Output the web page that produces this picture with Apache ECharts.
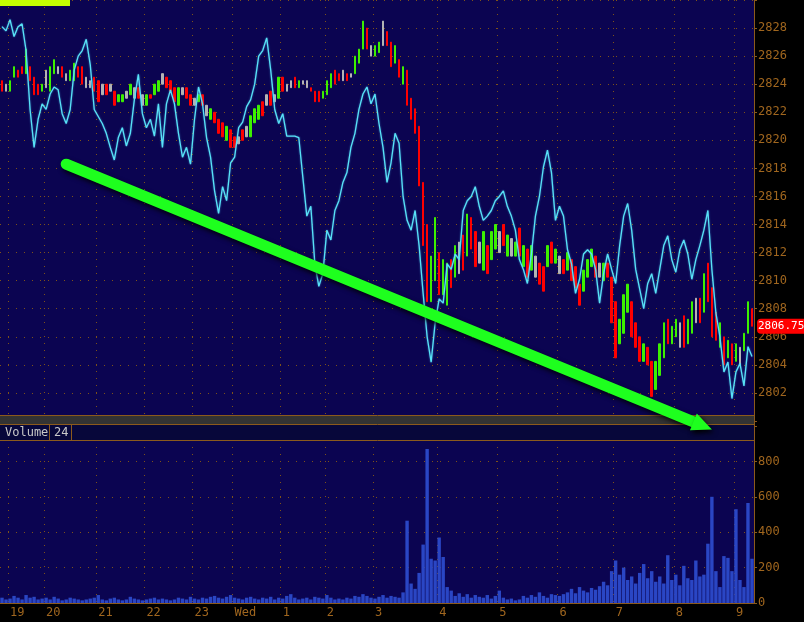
<!DOCTYPE html>
<html><head><meta charset="utf-8">
<script src="https://cdn.jsdelivr.net/npm/echarts@6/dist/echarts.min.js"></script>
<style>html,body{margin:0;padding:0;background:#000;}#c{width:804px;height:622px;}</style>
</head><body><div id="c"></div><script>
// ---- data ----
const hourIndex = [2,11,24,36,48,58,70,81,93,109,124,139,153,168,183];
const hourLabels = ['19','20','21','22','23','Wed','1','2','3','4','5','6','7','8','9'];

const lows = [
2823.5,2823.5,2823.5,2824.5,2824.5,2824.75,2824.75,2824.25,2823.25,2823.25,
2823.5,2823.75,2823.5,2824.75,2824.75,2824.5,2824.25,2824.25,2824.25,2824.5,
2824,2823.75,2823.75,2823.5,2822.75,2823.25,2823.25,2823.5,2822.5,2822.75,
2822.75,2823,2823.25,2823,2823,2822.5,2822.5,2823,2823.25,2823.5,
2824,2823.75,2823.5,2822.75,2822.5,2823.25,2823,2822.5,2822.5,2822.75,
2822.5,2821.75,2821.5,2821.25,2820.5,2820.25,2820,2819.5,2819.5,2819.75,
2820,2820.25,2820.25,2821.25,2821.5,2821.75,2822.5,2822.5,2822.75,2823,
2823.5,2823.5,2823.75,2823.75,2823.75,2824,2823.75,2823.5,2822.75,2822.75,
2823,2823.25,2823.75,2824,2824.25,2824.25,2824.25,2824.5,2824.75,2825.5,
2826.5,2826.5,2826,2826,2826.25,2826.75,2826.75,2825.25,2825.5,2824.5,
2824,2822.5,2821.5,2820.5,2816.75,2812.5,2808.5,2808.5,2810,2809,
2809,2808.25,2809.5,2810.25,2810.5,2810.75,2811.75,2812.25,2811,2811.25,
2810.75,2810.5,2811.5,2812.25,2812,2812.5,2811.75,2811.75,2811.75,2811.75,
2811,2810.25,2810.75,2810.25,2809.75,2809.25,2811,2811.25,2811.25,2810.5,
2810.5,2810.75,2810,2809.5,2808.25,2809.25,2810.25,2811,2810.25,2810.25,
2810,2810.25,2807,2804.5,2805.5,2806.25,2807.75,2806,2805.25,2804.25,
2804.25,2804,2801.75,2802.25,2803.25,2804.5,2805.5,2805.5,2806,2805.25,
2805.25,2805.5,2806.25,2807,2807,2807.75,2808.5,2806,2805.75,2805.25,
2804,2804.5,2804,2804.25,2804,2805,2806.25,2806.75];

const highs = [
2824.25,2824,2824.25,2825.25,2825,2825.25,2826.5,2825.25,2824.5,2824,
2824,2825,2825.25,2825.75,2825.25,2825.25,2824.75,2825,2825.5,2825.25,
2825.25,2824.5,2824.25,2824.5,2824.25,2824,2824,2824,2823.5,2823.25,
2823.25,2823.5,2824,2823.75,2823.75,2823.25,2823.25,2823.25,2824,2824.25,
2824.75,2824.5,2824.25,2823.75,2823.75,2823.75,2823.75,2823.25,2823,2823.25,
2823.25,2822.5,2822.25,2822,2821.5,2821.25,2821,2820.75,2820.25,2820.25,
2820.75,2821,2821.75,2822.25,2822.5,2822.75,2823.25,2823.5,2823.25,2824.5,
2824.5,2824,2824.25,2824.5,2824.25,2824.25,2824.25,2823.75,2823.5,2823.5,
2823.5,2824.25,2824.75,2825,2824.75,2825,2824.75,2824.75,2826,2826.5,
2828.5,2828,2826.75,2826.75,2827,2828.5,2827.75,2827,2826.75,2825.75,
2825.25,2825,2823,2822.25,2821,2817,2814,2811.75,2814.5,2812,
2811.5,2811.25,2811.5,2812.5,2812.75,2813.25,2814.75,2814.5,2813.5,2812.75,
2813.5,2812.5,2813.5,2814,2813.5,2814,2813.25,2813,2812.75,2813.75,
2812.5,2812.25,2812.5,2811.75,2811.25,2811,2812.5,2812.75,2812.25,2811.75,
2811.5,2812,2811.5,2811,2809.75,2810.75,2811.5,2812.25,2811.75,2811.25,
2811.25,2811.25,2810.25,2808.5,2807.25,2809,2809.75,2808.5,2807,2806,
2805.5,2805.25,2804.25,2804.25,2805.5,2807,2807.25,2806.75,2807.25,2807,
2807.5,2807.25,2808.5,2808.75,2808.75,2810.5,2811.25,2809.5,2807.75,2807,
2806,2805.75,2805.5,2805.5,2805.25,2806.25,2808.5,2808];

// u = up bar (green), d = down bar (red), n = unchanged (gray)
const dirs = 'dnuudduddd' + 'unuundnuud' + 'dnnddndndu' + 'unundnuduu' + 'ndddunddnu' +
             'dnuddduddn' + 'dnuuudndnu' + 'dnndunnddd' + 'uuuddndnuu' + 'udnuunddud' +
             'udddddduud' + 'uudunduddn' + 'uduundunud' + 'udunddudun' + 'duddduuudn' +
             'uddduuuddd' + 'udduuuduun' + 'duundudddu' + 'dudunuud';

const indicator = [
2828.1,2827.8,2828.6,2827.4,2828.1,2828.3,2826.4,2822.2,2819.5,2821.5,
2822.6,2822.2,2823.3,2823.8,2823.6,2821.9,2821.2,2822.2,2825.0,2826.0,
2826.4,2827.2,2825.4,2822.2,2821.7,2821.2,2820.5,2819.5,2818.6,2820.2,
2820.9,2819.6,2820.5,2822.9,2824.7,2821.9,2820.9,2821.5,2820.3,2822.6,
2819.5,2822.6,2823.6,2822.6,2820.5,2818.8,2819.5,2818.3,2821.5,2823.8,
2822.6,2820.2,2818.8,2816.4,2814.8,2816.7,2815.7,2818.4,2818.8,2820.9,
2821.3,2822.4,2822.9,2824.0,2826.0,2826.4,2827.3,2825.0,2822.2,2821.2,
2821.9,2820.3,2820.3,2820.3,2820.2,2817.4,2814.6,2815.3,2811.2,2809.6,
2810.5,2813.6,2812.9,2815.0,2815.7,2817.0,2817.7,2819.5,2820.5,2822.2,
2823.3,2823.8,2822.6,2823.3,2821.2,2819.5,2817.0,2818.4,2820.5,2819.8,
2816.0,2814.3,2813.6,2815.0,2812.5,2809.1,2806.0,2804.2,2807.0,2808.7,
2808.4,2811.2,2810.8,2811.9,2811.5,2815.0,2815.7,2816.0,2816.7,2815.3,
2814.3,2814.6,2815.0,2815.7,2816.0,2816.4,2815.3,2814.6,2813.6,2811.5,
2810.8,2809.8,2811.9,2814.6,2816.0,2818.1,2819.3,2817.7,2814.3,2815.3,
2814.6,2812.2,2811.2,2809.1,2810.1,2811.9,2812.2,2811.9,2810.8,2808.4,
2810.5,2811.9,2810.8,2809.8,2812.5,2814.6,2815.5,2813.6,2810.8,2809.4,
2808.0,2809.8,2810.5,2809.1,2810.8,2812.5,2813.2,2811.5,2810.6,2812.2,
2812.9,2811.9,2810.1,2811.5,2812.5,2813.6,2815.0,2810.8,2807.7,2806.0,
2803.5,2804.2,2801.6,2803.5,2804.1,2802.5,2805.3,2804.6];

const volume = [
30,20,25,40,30,20,45,30,35,20,
25,30,20,35,25,15,20,30,25,20,
15,20,25,30,45,20,15,25,30,20,
15,20,35,25,20,15,20,25,30,20,
25,20,15,20,30,25,20,35,25,20,
30,25,35,40,30,25,35,45,30,25,
20,30,35,25,20,30,25,35,20,30,
25,40,50,30,20,25,30,20,35,30,
25,45,30,20,25,20,30,25,40,35,
50,40,30,25,35,45,30,40,35,30,
60,465,110,80,170,330,870,250,240,370,
260,90,70,40,55,35,50,30,45,35,
30,45,25,40,70,30,20,25,15,20,
40,30,45,35,60,40,30,50,45,40,
50,60,80,55,90,70,60,85,75,95,
120,100,180,240,160,200,130,150,110,170,
220,140,180,120,150,110,270,130,160,100,
210,140,130,240,150,160,335,600,180,90,
265,255,180,530,130,90,565,250];

const lastPrice = 2806.75;
const arrowFrom = [16, 2818.3];
const arrowTo = [177, 2799.4];

// ---- styles ----
const NAVY = '#0b0451';
const BROWN = '#8c5a1c';
const DOT = '#7e5218';
const LABEL = '#a0661e';
const MONO = 'DejaVu Sans Mono';
const GREEN = '#3cf000';
const RED = '#ff0000';
const GRAY = '#b4b4b4';
const CYAN = '#58e2f6';

const categories = lows.map((_, i) => String(i));
const candles = lows.map((lo, i) => {
  const hi = highs[i], d = dirs[i];
  if (d === 'u') return [lo, hi, lo, hi];
  if (d === 'd') return [hi, lo, lo, hi];
  return { value: [lo, hi, lo, hi], itemStyle: { color: GRAY, borderColor: GRAY } };
});
const isHour = (i) => hourIndex.indexOf(i) >= 0;
const vSplit = { show: true, interval: (i) => isHour(i), lineStyle: { color: DOT, type: [1, 6], width: 1 } };

const chart = echarts.init(document.getElementById('c'), null, { renderer: 'canvas' });
chart.setOption({
  backgroundColor: '#000',
  animation: false,
  grid: [
    { left: 0, right: 50, top: -12, height: 433, show: true, backgroundColor: NAVY, borderWidth: 0 },
    { left: 0, right: 50, top: 426, height: 177, show: true, backgroundColor: NAVY, borderWidth: 0 }
  ],
  xAxis: [
    { type: 'category', gridIndex: 0, data: categories, boundaryGap: true,
      axisLine: { show: false }, axisTick: { show: false }, axisLabel: { show: false },
      splitLine: vSplit },
    { type: 'category', gridIndex: 1, data: categories, boundaryGap: true,
      axisLine: { show: true, lineStyle: { color: BROWN, width: 1 } }, axisTick: { show: false },
      axisLabel: { interval: (i) => isHour(i), formatter: (v) => hourLabels[hourIndex.indexOf(+v)] || '',
        color: LABEL, fontFamily: MONO, fontSize: 12, align: 'left', margin: 4 },
      splitLine: vSplit }
  ],
  yAxis: [
    { type: 'value', gridIndex: 0, position: 'right', min: 2800, max: 2830, interval: 2,
      axisLine: { show: true, lineStyle: { color: BROWN } },
      axisTick: { show: true, length: 3, lineStyle: { color: BROWN } },
      axisLabel: { color: LABEL, fontFamily: MONO, fontSize: 12, margin: 4,
        formatter: (v) => (v <= 2800 || v >= 2830) ? '' : String(v) },
      splitLine: { show: true, lineStyle: { color: DOT, type: [1, 7], width: 1 } } },
    { type: 'value', gridIndex: 1, position: 'right', min: 0, max: 1000, interval: 200,
      axisLine: { show: true, lineStyle: { color: BROWN } },
      axisTick: { show: true, length: 3, lineStyle: { color: BROWN } },
      axisLabel: { color: LABEL, fontFamily: MONO, fontSize: 12, margin: 4,
        formatter: (v) => v >= 1000 ? '' : String(v) },
      splitLine: { show: true, lineStyle: { color: DOT, type: [1, 7], width: 1 } } }
  ],
  series: [
    { type: 'candlestick', xAxisIndex: 0, yAxisIndex: 0, data: candles, barWidth: 2, z: 3,
      itemStyle: { color: GREEN, color0: RED, borderColor: GREEN, borderColor0: RED, borderWidth: 1 } },
    { type: 'line', xAxisIndex: 0, yAxisIndex: 0, data: indicator, showSymbol: false, z: 4,
      lineStyle: { color: CYAN, width: 1.3, shadowColor: 'rgba(80,200,255,0.6)', shadowBlur: 2 } },
    { type: 'bar', xAxisIndex: 1, yAxisIndex: 1, data: volume, barCategoryGap: '15%',
      itemStyle: { color: '#2a46c4' } }
  ]
});

// ---- overlays ----
const p1 = chart.convertToPixel({ gridIndex: 0 }, arrowFrom);
const p2 = chart.convertToPixel({ gridIndex: 0 }, arrowTo);
const dx = p2[0] - p1[0], dy = p2[1] - p1[1], L = Math.sqrt(dx * dx + dy * dy);
const ux = dx / L, uy = dy / L, nx = -uy, ny = ux;
const headLen = 20, headHalf = 9;
const bx = p2[0] - ux * headLen, by = p2[1] - uy * headLen;
const py = chart.convertToPixel({ gridIndex: 0 }, [0, lastPrice])[1];

const graphics = [
  { type: 'rect', shape: { x: 0, y: 0, width: 70, height: 6 }, style: { fill: '#c4ff00' }, z: 100 },
  { type: 'rect', shape: { x: 0, y: 416, width: 755, height: 8 }, style: { fill: '#333333' }, z: 100 },
  { type: 'line', shape: { x1: 0, y1: 415.5, x2: 755, y2: 415.5 }, style: { stroke: BROWN, lineWidth: 1 }, z: 101 },
  { type: 'rect', shape: { x: 0, y: 424, width: 755, height: 17 }, style: { fill: '#07073a' }, z: 100 },
  { type: 'line', shape: { x1: 0, y1: 424.5, x2: 755, y2: 424.5 }, style: { stroke: BROWN, lineWidth: 1 }, z: 101 },
  { type: 'line', shape: { x1: 0, y1: 440.5, x2: 755, y2: 440.5 }, style: { stroke: BROWN, lineWidth: 1 }, z: 101 },
  { type: 'line', shape: { x1: 49.5, y1: 424, x2: 49.5, y2: 441 }, style: { stroke: BROWN, lineWidth: 1 }, z: 101 },
  { type: 'line', shape: { x1: 71.5, y1: 424, x2: 71.5, y2: 441 }, style: { stroke: BROWN, lineWidth: 1 }, z: 101 },
  { type: 'line', shape: { x1: 754.5, y1: 415, x2: 754.5, y2: 441 }, style: { stroke: BROWN, lineWidth: 1 }, z: 101 },
  { type: 'text', x: 5, y: 432.5, style: { text: 'Volume', fill: '#c8c8c8', font: '12px "DejaVu Sans Mono"', verticalAlign: 'middle' }, z: 102 },
  { type: 'text', x: 54, y: 432.5, style: { text: '24', fill: '#c8c8c8', font: '12px "DejaVu Sans Mono"', verticalAlign: 'middle' }, z: 102 },
  { type: 'rect', shape: { x: 757, y: py - 7.5, width: 50, height: 15, r: [4, 0, 0, 4] }, style: { fill: '#ff0000' }, z: 102 },
  { type: 'text', x: 758, y: py, style: { text: String(lastPrice), fill: '#ffffff', font: '11px "DejaVu Sans Mono"', verticalAlign: 'middle' }, z: 103 },
  { type: 'line', shape: { x1: p1[0], y1: p1[1], x2: bx + ux * 2, y2: by + uy * 2 },
    style: { stroke: '#1eff1e', lineWidth: 11, lineCap: 'round', shadowColor: 'rgba(0,0,0,0.85)', shadowBlur: 5, shadowOffsetX: 2, shadowOffsetY: 3 }, z: 110 },
  { type: 'polygon', shape: { points: [[p2[0], p2[1]], [bx + nx * headHalf, by + ny * headHalf], [bx - nx * headHalf, by - ny * headHalf]] },
    style: { fill: '#1eff1e', shadowColor: 'rgba(0,0,0,0.85)', shadowBlur: 5, shadowOffsetX: 2, shadowOffsetY: 3 }, z: 110 }
];
chart.setOption({ graphic: graphics });
</script></body></html>
